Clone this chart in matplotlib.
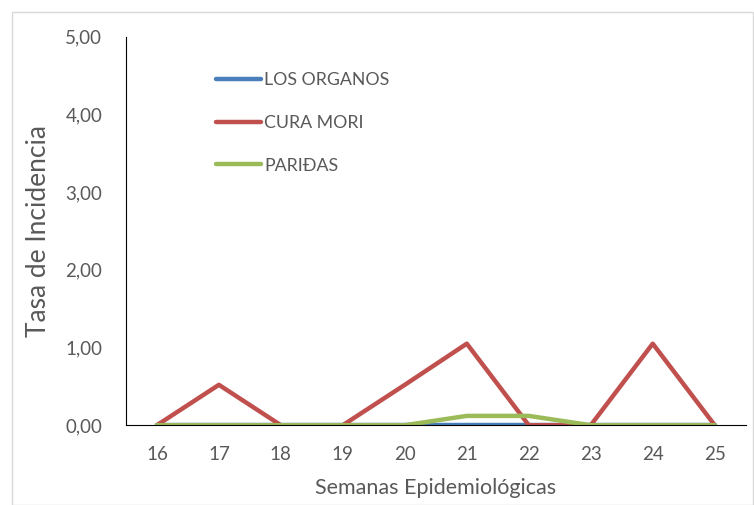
import matplotlib.pyplot as plt
from matplotlib.patches import Rectangle
from matplotlib.ticker import FuncFormatter

plt.rcParams['font.family'] = ['Lato', 'DejaVu Sans']

semanas = [16, 17, 18, 19, 20, 21, 22, 23, 24, 25]
los_organos = [0, 0, 0, 0, 0, 0, 0, 0, 0, 0]
cura_mori = [0, 0.52, 0, 0, 0.52, 1.05, 0, 0, 1.05, 0]
paridas = [0, 0, 0, 0, 0, 0.12, 0.12, 0, 0, 0]

fig = plt.figure(figsize=(7.54, 5.05), dpi=100)
ax = fig.add_axes([0.167, 0.158, 0.822, 0.769])

x = range(len(semanas))
ax.plot(x, los_organos, color='#4A7EBB', lw=3.2, label='LOS ORGANOS', solid_capstyle='round')
ax.plot(x, cura_mori, color='#C0504D', lw=3.2, label='CURA MORI', solid_capstyle='round')
ax.plot(x, paridas, color='#9BBB59', lw=3.2, label='PARIĐAS', solid_capstyle='round')

ax.set_xlim(-0.5, 9.5)
ax.set_ylim(0, 5)
ax.set_xticks(list(x))
ax.set_xticklabels([str(s) for s in semanas])
ax.set_yticks([0, 1, 2, 3, 4, 5])
ax.yaxis.set_major_formatter(FuncFormatter(lambda v, p: f'{v:.2f}'.replace('.', ',')))
ax.tick_params(length=0, labelsize=13.5, labelcolor='#595959')
ax.tick_params(axis='y', pad=17)
ax.tick_params(axis='x', pad=15)

for s in ['top', 'right']:
    ax.spines[s].set_visible(False)
ax.spines['left'].set_color('black')
ax.spines['bottom'].set_color('black')

ax.set_xlabel('Semanas Epidemiológicas', fontsize=15.5, color='#595959', labelpad=11)
ax.set_ylabel('Tasa de Incidencia', fontsize=19, color='#595959', labelpad=10)

ax.legend(loc='upper left', bbox_to_anchor=(0.12, 0.95), frameon=False, fontsize=12.8,
          labelspacing=1.5, handlelength=2.5, handletextpad=0.2, labelcolor='#595959')

fig.patches.append(Rectangle((12 / 754, 0), 741 / 754, 493 / 505, transform=fig.transFigure,
                             fill=False, edgecolor='#D9D9D9', lw=1))

fig.savefig('out.png')
